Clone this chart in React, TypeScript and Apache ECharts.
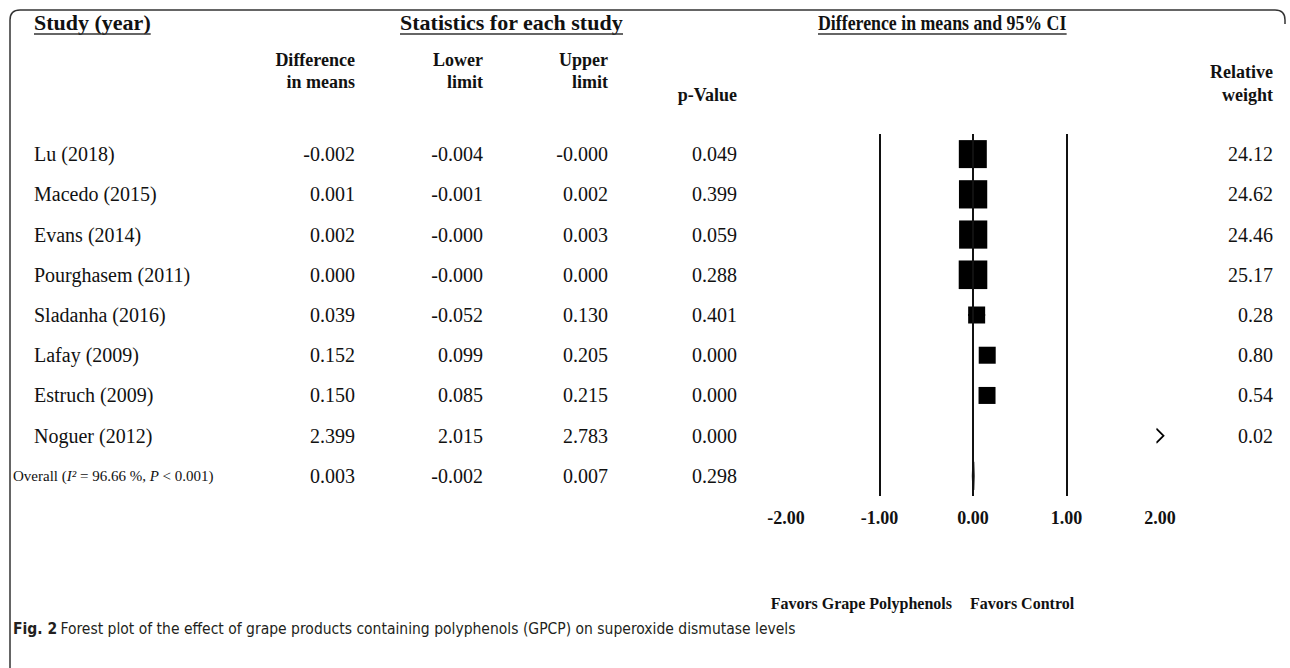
import React, { useEffect, useRef } from "react";
import * as echarts from "echarts";

// ---------- data ----------
const studies = [
  "Lu (2018)",
  "Macedo (2015)",
  "Evans (2014)",
  "Pourghasem (2011)",
  "Sladanha (2016)",
  "Lafay (2009)",
  "Estruch (2009)",
  "Noguer (2012)",
  "Overall",
];
const diffMeans = ["-0.002", "0.001", "0.002", "0.000", "0.039", "0.152", "0.150", "2.399", "0.003"];
const lowerLimits = ["-0.004", "-0.001", "-0.000", "-0.000", "-0.052", "0.099", "0.085", "2.015", "-0.002"];
const upperLimits = ["-0.000", "0.002", "0.003", "0.000", "0.130", "0.205", "0.215", "2.783", "0.007"];
const pValues = ["0.049", "0.399", "0.059", "0.288", "0.401", "0.000", "0.000", "0.000", "0.298"];
const relWeights = ["24.12", "24.62", "24.46", "25.17", "0.28", "0.80", "0.54", "0.02", ""];
const overallI2 = "96.66";
const overallP = "< 0.001";
const xTicks = [-2, -1, 0, 1, 2];
const refLines = [-1, 0, 1];
const favorsLeft = "Favors Grape Polyphenols";
const favorsRight = "Favors Control";
const caption =
  "Forest plot of the effect of grape products containing polyphenols (GPCP) on superoxide dismutase levels";

// ---------- styles ----------
const SERIF = "'Liberation Serif', 'Times New Roman', serif";
const SANS_N = "'Liberation Sans Narrow', 'DejaVu Sans Condensed', 'Noto Sans', sans-serif";
const INK = "#111";
const GRID_L = 786;
const GRID_R = 1160;
const GRID_T = 134;
const GRID_B = 496;

let frameRegistered = false;
function registerFrame() {
  if (frameRegistered) return;
  const d = "M10,700 L10,20 Q10,10 20,10 L1275,10 Q1285,10 1285,20 L1285,24";
  echarts.graphic.registerShape("frame", echarts.graphic.extendPath(d, {}));
  frameRegistered = true;
}

function measure(text: string, font: string): number {
  const ctx = document.createElement("canvas").getContext("2d");
  if (!ctx) return text.length * 10;
  ctx.font = font;
  return ctx.measureText(text).width;
}

export default function App() {
  const ref = useRef<HTMLDivElement>(null);

  useEffect(() => {
    if (!ref.current) return;
    registerFrame();
    const chart = echarts.init(ref.current, undefined, { renderer: "svg" });

    const rows = studies.map((_, i) => i);
    const overallIdx = studies.length - 1;
    const studyRows = rows.filter((i) => i !== overallIdx);
    const xMin = xTicks[0];
    const xMax = xTicks[xTicks.length - 1];
    const inRange = studyRows.filter((i) => Number(diffMeans[i]) >= xMin && Number(diffMeans[i]) <= xMax);
    const outRange = studyRows.filter((i) => !inRange.includes(i));
    const sizeOf = (w: number) => Math.max(17, 5.7 * Math.sqrt(w));

    const hideAxis = {
      axisLine: { show: false },
      axisTick: { show: false },
      splitLine: { show: false },
    };
    const colAxis = (col: string[], rightEdge: number) => ({
      type: "category",
      gridIndex: 0,
      inverse: true,
      position: "left",
      offset: GRID_L - rightEdge,
      data: rows.map((i) => "r" + i),
      ...hideAxis,
      axisLabel: {
        interval: 0,
        margin: 0,
        align: "right",
        fontFamily: SERIF,
        fontSize: 20,
        color: INK,
        formatter: (_v: string, idx: number) => col[idx],
      },
    });

    const bold22 = `bold 22px ${SERIF}`;
    const titles = [
      { text: "Study (year)", x: 34, sx: 1 },
      { text: "Statistics for each study", x: 400, sx: 1 },
      { text: "Difference in means and 95% CI", x: 818, sx: 0.81 },
    ];
    const titleEls: any[] = [];
    titles.forEach((t) => {
      const w = measure(t.text, bold22) * t.sx;
      titleEls.push({
        type: "text",
        x: t.x,
        y: 22,
        scaleX: t.sx,
        style: {
          text: t.text,
          font: bold22,
          fill: INK,
          textAlign: "left",
          textVerticalAlign: "middle",
        },
      });
      titleEls.push({
        type: "line",
        shape: { x1: t.x, y1: 34, x2: t.x + w, y2: 34 },
        style: { stroke: "#333", lineWidth: 1.5 },
      });
    });

    const bold18 = `bold 18px ${SERIF}`;
    const hdr = (text: string, x: number, y: number) => ({
      type: "text",
      x,
      y,
      style: { text, font: bold18, fill: INK, textAlign: "right", textVerticalAlign: "middle" },
    });

    const option: any = {
      animation: false,
      backgroundColor: "#fff",
      grid: {
        left: GRID_L,
        right: 1290 - GRID_R,
        top: GRID_T,
        bottom: 668 - GRID_B,
        containLabel: false,
      },
      xAxis: {
        type: "value",
        min: xMin,
        max: xMax,
        interval: xTicks[1] - xTicks[0],
        ...hideAxis,
        axisLabel: {
          margin: 13,
          fontFamily: SERIF,
          fontSize: 18,
          fontWeight: "bold",
          color: INK,
          formatter: (v: number) => v.toFixed(2),
        },
      },
      yAxis: [
        {
          type: "category",
          inverse: true,
          position: "left",
          offset: GRID_L - 13,
          data: rows.map((i) => "s" + i),
          ...hideAxis,
          axisLabel: {
            interval: 0,
            margin: 0,
            align: "left",
            formatter: (_v: string, idx: number) =>
              idx === overallIdx
                ? `{o|${studies[idx]} (}{oi|I²}{o| = ${overallI2} %, }{oi|P}{o| ${overallP})}`
                : `{n|${studies[idx]}}`,
            rich: {
              n: { fontFamily: SERIF, fontSize: 20, color: INK, padding: [0, 0, 0, 21] },
              o: { fontFamily: SERIF, fontSize: 15, color: INK },
              oi: { fontFamily: SERIF, fontSize: 15, color: INK, fontStyle: "italic" },
            },
          },
        },
        colAxis(diffMeans, 355),
        colAxis(lowerLimits, 483),
        colAxis(upperLimits, 608),
        colAxis(pValues, 737),
        colAxis(relWeights, 1273),
      ],
      series: [
        {
          type: "custom",
          name: "ci",
          yAxisIndex: 0,
          renderItem: (_p: any, api: any) => {
            const a = api.coord([api.value(0), api.value(2)]);
            const b = api.coord([api.value(1), api.value(2)]);
            return {
              type: "line",
              shape: { x1: a[0], y1: a[1], x2: b[0], y2: b[1] },
              style: { stroke: "#000", lineWidth: 2 },
            };
          },
          encode: { x: [0, 1], y: 2 },
          data: inRange.map((i) => [Number(lowerLimits[i]), Number(upperLimits[i]), i]),
          z: 3,
        },
        {
          type: "scatter",
          name: "studies",
          yAxisIndex: 0,
          symbol: "rect",
          itemStyle: { color: "#000", opacity: 1 },
          data: inRange.map((i) => ({
            value: [Number(diffMeans[i]), i],
            symbolSize: sizeOf(Number(relWeights[i])),
          })),
          z: 4,
          markLine: {
            silent: true,
            symbol: ["none", "none"],
            label: { show: false },
            lineStyle: { color: "#111", width: 2, type: "solid", opacity: 1 },
            data: refLines.map((v) => ({ xAxis: v })),
          },
        },
        {
          type: "scatter",
          name: "offscale",
          yAxisIndex: 0,
          clip: false,
          symbol: "path://M0,0 L1,1 L0,2",
          symbolSize: [7, 14],
          itemStyle: { color: "none", borderColor: "#000", borderWidth: 1.6, opacity: 1 },
          data: outRange.map((i) => [Math.min(Number(diffMeans[i]), xMax), i]),
          z: 4,
        },
        {
          type: "custom",
          name: "overall",
          yAxisIndex: 0,
          renderItem: (_p: any, api: any) => {
            const y = api.value(3);
            const lo = api.coord([api.value(0), y]);
            const mid = api.coord([api.value(1), y]);
            const hi = api.coord([api.value(2), y]);
            const h = 14;
            return {
              type: "polygon",
              shape: {
                points: [
                  [lo[0], lo[1]],
                  [mid[0], mid[1] - h],
                  [hi[0], hi[1]],
                  [mid[0], mid[1] + h],
                ],
              },
              style: { fill: "#000", stroke: "#000", lineWidth: 2 },
            };
          },
          encode: { x: [0, 1, 2], y: 3 },
          data: [
            [
              Number(lowerLimits[overallIdx]),
              Number(diffMeans[overallIdx]),
              Number(upperLimits[overallIdx]),
              overallIdx,
            ],
          ],
          z: 4,
        },
      ],
      graphic: {
        elements: [
          {
            type: "frame",
            x: 0,
            y: 0,
            style: { fill: "none", stroke: "#333", lineWidth: 1.5 },
            silent: true,
          },
          ...titleEls,
          hdr("Difference", 355, 60),
          hdr("in means", 355, 82),
          hdr("Lower", 483, 60),
          hdr("limit", 483, 82),
          hdr("Upper", 608, 60),
          hdr("limit", 608, 82),
          hdr("p-Value", 737, 95),
          hdr("Relative", 1273, 72),
          hdr("weight", 1273, 95),
          {
            type: "text",
            x: 952,
            y: 603,
            style: {
              text: favorsLeft,
              font: `bold 16px ${SERIF}`,
              fill: INK,
              textAlign: "right",
              textVerticalAlign: "middle",
            },
          },
          {
            type: "text",
            x: 970,
            y: 603,
            style: {
              text: favorsRight,
              font: `bold 16px ${SERIF}`,
              fill: INK,
              textAlign: "left",
              textVerticalAlign: "middle",
            },
          },
          {
            type: "text",
            x: 13,
            y: 629,
            style: {
              text: `{b|Fig. 2} {r|${caption}}`,
              rich: {
                b: { fontFamily: SANS_N, fontSize: 15.5, fontWeight: "bold", fill: "#231f20" },
                r: { fontFamily: SANS_N, fontSize: 15.5, fill: "#231f20" },
              },
              textAlign: "left",
              textVerticalAlign: "middle",
            },
          },
        ],
      },
    };

    chart.setOption(option);
    return () => chart.dispose();
  }, []);

  return (
    <div
      ref={ref}
      style={{ position: "fixed", left: 0, top: 0, width: 1290, height: 668, background: "#fff" }}
    />
  );
}
